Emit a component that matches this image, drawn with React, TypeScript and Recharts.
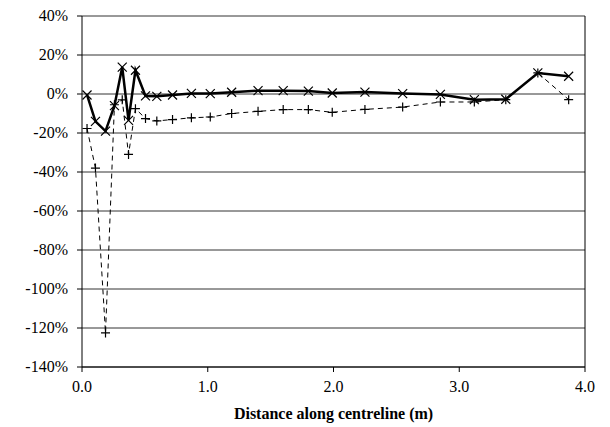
import React from 'react';
import { LineChart, Line, XAxis, YAxis, CartesianGrid, ReferenceLine } from 'recharts';

// distance along centreline (m)
const distances = [
  0.04, 0.107, 0.187, 0.258, 0.32, 0.37, 0.425, 0.505, 0.595, 0.72, 0.87, 1.02,
  1.19, 1.4, 1.6, 1.8, 1.99, 2.25, 2.55, 2.85, 3.12, 3.37, 3.625, 3.87,
];

// solid line, x markers (%)
const solidSeries = [
  -0.5, -14, -19, -6, 13.8, -13.5, 12.2, -1, -1.2, -0.5, 0.3, 0.2,
  0.9, 1.7, 1.7, 1.5, 0.5, 1.0, 0.2, -0.2, -2.9, -2.7, 10.8, 9.1,
];

// dashed line, + markers (%)
const dashedSeries = [
  -17.7, -38, -122.5, -5.5, -3, -31, -7.5, -12.6, -13.8, -13.1, -12.2, -11.8,
  -10, -8.9, -8, -8, -9.4, -7.9, -6.7, -4.1, -4.1, -2.9, 10.8, -2.9,
];

const xTicks = [0, 1, 2, 3, 4];
const yTicks = [-140, -120, -100, -80, -60, -40, -20, 0, 20, 40];

const data = distances.map((d, i) => ({ d, solid: solidSeries[i], dashed: dashedSeries[i] }));

const font = "'Liberation Serif', 'DejaVu Serif', serif";

function CrossDot({ cx, cy }: any) {
  if (cx == null || cy == null) return null;
  const s = 4.5;
  return (
    <path
      d={`M${cx - s},${cy - s}L${cx + s},${cy + s}M${cx - s},${cy + s}L${cx + s},${cy - s}`}
      stroke="#000"
      strokeWidth={1.2}
      fill="none"
    />
  );
}

function PlusDot({ cx, cy }: any) {
  if (cx == null || cy == null) return null;
  const s = 4.5;
  return (
    <path
      d={`M${cx - s},${cy}L${cx + s},${cy}M${cx},${cy - s}L${cx},${cy + s}`}
      stroke="#000"
      strokeWidth={1.2}
      fill="none"
    />
  );
}

function XTick({ x, y, payload }: any) {
  return (
    <text x={x} y={y + 16} textAnchor="middle" fill="#000" fontSize={16} fontFamily={font}>
      {Number(payload.value).toFixed(1)}
    </text>
  );
}

function YTick({ x, y, payload }: any) {
  return (
    <text x={x} y={y + 5} textAnchor="end" fill="#000" fontSize={16} fontFamily={font}>
      {`${payload.value}%`}
    </text>
  );
}

export default function App() {
  return (
    <div style={{ position: 'absolute', left: 0, top: 0, background: '#fff', fontFamily: font }}>
      <LineChart
        width={610}
        height={427}
        data={data}
        margin={{ top: 16, right: 25, bottom: 0, left: 0 }}
      >
        <CartesianGrid vertical={false} stroke="#333" strokeWidth={1} />
        <XAxis
          dataKey="d"
          type="number"
          domain={[0, 4]}
          ticks={xTicks}
          stroke="#000"
          tickSize={5}
          tickMargin={4}
          height={60}
          tick={<XTick />}
          label={{
            value: 'Distance along centreline (m)',
            position: 'insideBottom',
            offset: 8,
            style: { fill: '#000', fontSize: 16, fontWeight: 'bold', fontFamily: font },
          }}
        />
        <YAxis
          type="number"
          domain={[-140, 40]}
          ticks={yTicks}
          stroke="#000"
          tickSize={5}
          tickMargin={9}
          width={82}
          interval={0}
          tick={<YTick />}
        />
        <ReferenceLine x={4} stroke="#000" strokeWidth={1} />
        <Line
          dataKey="dashed"
          stroke="#000"
          strokeWidth={1}
          strokeDasharray="5 4"
          dot={<PlusDot />}
          isAnimationActive={false}
        />
        <Line
          dataKey="solid"
          stroke="#000"
          strokeWidth={2.5}
          dot={<CrossDot />}
          isAnimationActive={false}
        />
      </LineChart>
    </div>
  );
}
